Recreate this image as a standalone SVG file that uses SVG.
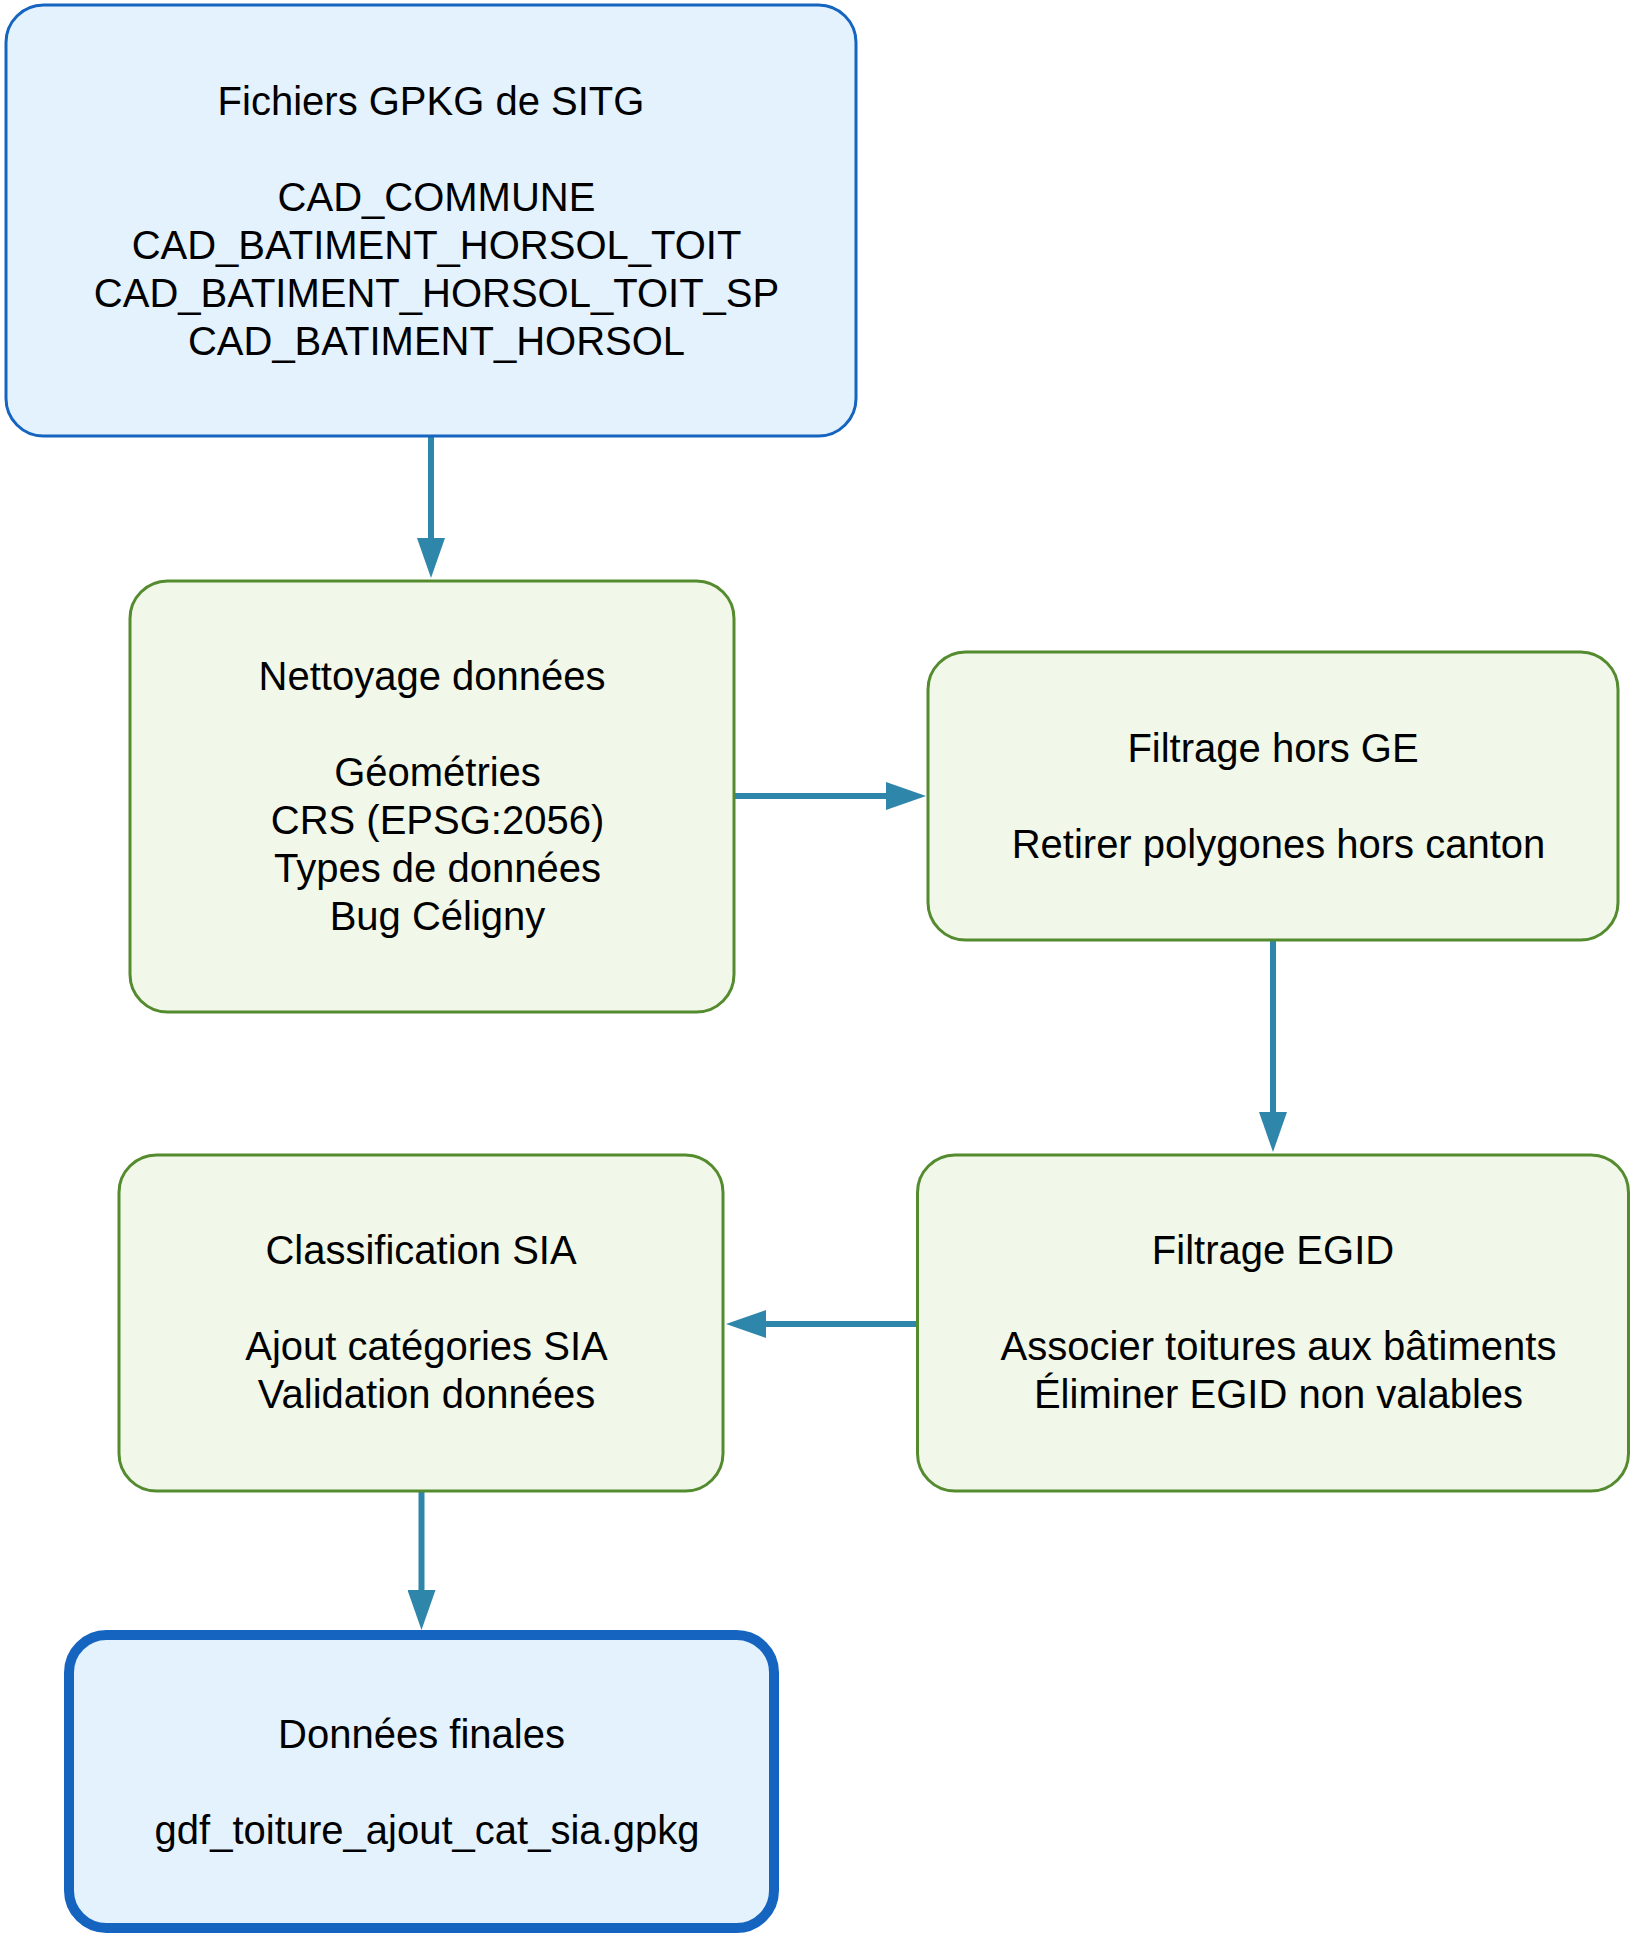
<svg xmlns="http://www.w3.org/2000/svg" width="1642" height="1938" viewBox="0 0 1642 1938">
<style>
.t{font-family:"Liberation Sans",Arial,sans-serif;font-size:40px;fill:#000;text-anchor:middle}
.blue{fill:#E3F2FD;stroke:#1565C0;stroke-width:3}
.final{fill:#E3F2FD;stroke:#1565C0;stroke-width:10}
.green{fill:#F1F8E9;stroke:#558B2F;stroke-width:3}
.edge{stroke:#2E86AB;stroke-width:6;fill:none}
</style>
<defs>
<marker id="ah" markerUnits="userSpaceOnUse" markerWidth="40" markerHeight="28" refX="2" refY="14" orient="auto" viewBox="0 0 40 28">
<path d="M0,0 L40,14 L0,28 z" fill="#2E86AB"/>
</marker>
</defs>
<rect width="1642" height="1938" fill="#fff"/>
<g id="edges">
<line class="edge" x1="431" y1="437" x2="431" y2="540" marker-end="url(#ah)"/>
<line class="edge" x1="734" y1="796" x2="888" y2="796" marker-end="url(#ah)"/>
<line class="edge" x1="1273" y1="940" x2="1273" y2="1114" marker-end="url(#ah)"/>
<line class="edge" x1="917" y1="1324" x2="764" y2="1324" marker-end="url(#ah)"/>
<line class="edge" x1="421.5" y1="1491" x2="421.5" y2="1592" marker-end="url(#ah)"/>
</g>
<g id="n1">
<rect class="blue" x="6" y="5" width="850" height="431" rx="37.5" ry="37.5"/>
<text class="t" x="431" y="115">Fichiers GPKG de SITG</text>
<text class="t" x="436.5" y="211">CAD_COMMUNE</text>
<text class="t" x="436.5" y="259">CAD_BATIMENT_HORSOL_TOIT</text>
<text class="t" x="436.5" y="307">CAD_BATIMENT_HORSOL_TOIT_SP</text>
<text class="t" x="436.5" y="355">CAD_BATIMENT_HORSOL</text>
</g>
<g id="n2">
<rect class="green" x="130" y="581" width="604" height="431" rx="37.5" ry="37.5"/>
<text class="t" x="432" y="690">Nettoyage données</text>
<text class="t" x="437.5" y="786">Géométries</text>
<text class="t" x="437.5" y="834">CRS (EPSG:2056)</text>
<text class="t" x="437.5" y="882">Types de données</text>
<text class="t" x="437.5" y="930">Bug Céligny</text>
</g>
<g id="n3">
<rect class="green" x="928" y="652" width="690" height="288" rx="37.5" ry="37.5"/>
<text class="t" x="1273" y="762">Filtrage hors GE</text>
<text class="t" x="1278.5" y="858">Retirer polygones hors canton</text>
</g>
<g id="n4">
<rect class="green" x="119" y="1155" width="604" height="336" rx="37.5" ry="37.5"/>
<text class="t" x="421" y="1264">Classification SIA</text>
<text class="t" x="426.5" y="1360">Ajout catégories SIA</text>
<text class="t" x="426.5" y="1408">Validation données</text>
</g>
<g id="n5">
<rect class="green" x="917.5" y="1155" width="711" height="336" rx="37.5" ry="37.5"/>
<text class="t" x="1273" y="1264">Filtrage EGID</text>
<text class="t" x="1278.5" y="1360">Associer toitures aux bâtiments</text>
<text class="t" x="1278.5" y="1408">Éliminer EGID non valables</text>
</g>
<g id="n6">
<rect class="final" x="69" y="1635" width="705" height="293" rx="37.5" ry="37.5"/>
<text class="t" x="421.5" y="1748">Données finales</text>
<text class="t" x="427" y="1844">gdf_toiture_ajout_cat_sia.gpkg</text>
</g>
</svg>
